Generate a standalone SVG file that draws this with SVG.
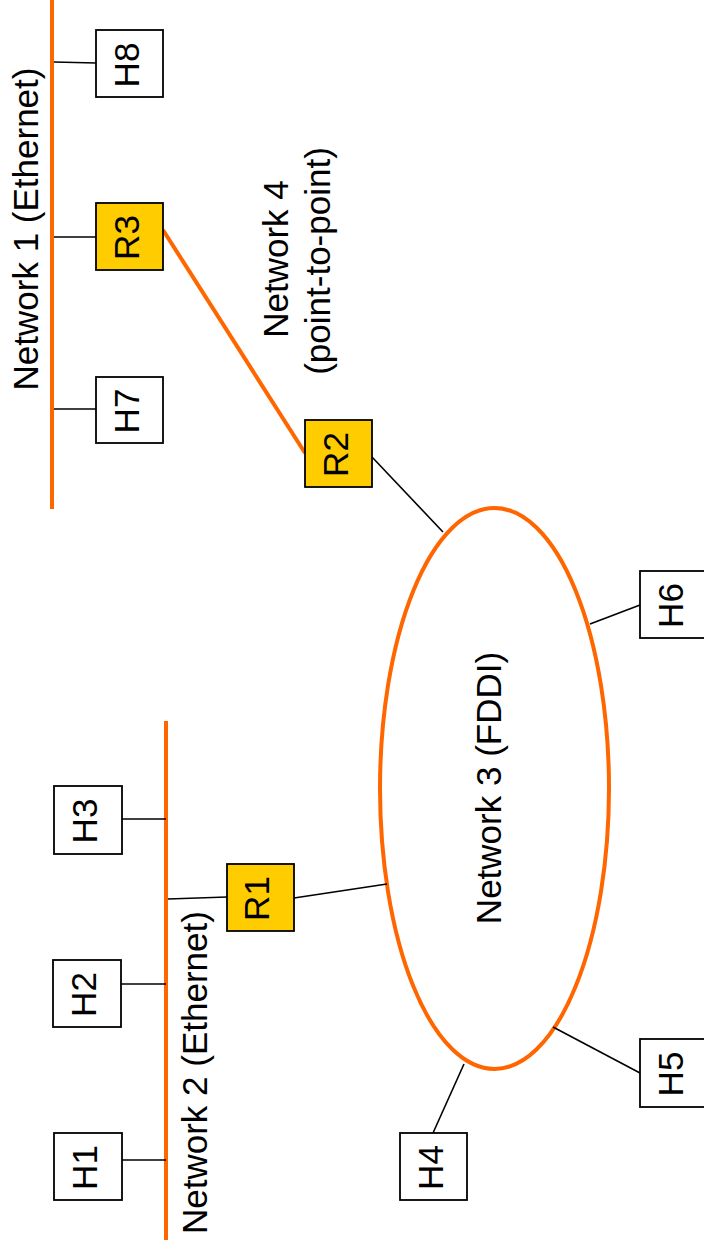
<svg xmlns="http://www.w3.org/2000/svg" width="704" height="1251" viewBox="0 0 704 1251">
<style>
.net{stroke:#FF6600;stroke-width:4;fill:none}
.link{stroke:#000;stroke-width:1.6;fill:none}
.host{fill:#fff;stroke:#000;stroke-width:1.8}
.router{fill:#FFCC00;stroke:#000;stroke-width:1.8}
text{font-family:"Liberation Sans",Arial,sans-serif;font-size:35px;fill:#000}
.c{text-anchor:middle}
</style>
<rect width="704" height="1251" fill="#fff"/>
<g id="networks">
<line id="network1" class="net" x1="52" y1="0" x2="52" y2="509"/>
<line id="network2" class="net" x1="166" y1="721" x2="166" y2="1240"/>
<ellipse id="network3" class="net" cx="494.5" cy="788.5" rx="114.5" ry="280.5"/>
<line id="network4" class="net" x1="163" y1="230" x2="305" y2="453"/>
</g>
<g id="connectors">
<line class="link" x1="54" y1="62" x2="96" y2="63"/>
<line class="link" x1="54" y1="237" x2="96" y2="237"/>
<line class="link" x1="54" y1="409" x2="96" y2="409"/>
<line class="link" x1="372" y1="457" x2="443" y2="532"/>
<line class="link" x1="590" y1="624" x2="640" y2="605"/>
<line class="link" x1="122" y1="819" x2="166" y2="819"/>
<line class="link" x1="168" y1="899" x2="227" y2="897"/>
<line class="link" x1="294" y1="898" x2="387" y2="884"/>
<line class="link" x1="120" y1="984" x2="166" y2="984"/>
<line class="link" x1="120" y1="1160" x2="166" y2="1160"/>
<line class="link" x1="433" y1="1133" x2="464" y2="1064"/>
<line class="link" x1="553" y1="1027" x2="640" y2="1073"/>
</g>
<g id="labels">
<text class="c" transform="translate(38,229) rotate(-90)">Network 1 (Ethernet)</text>
<text class="c" transform="translate(288,259) rotate(-90)">Network 4</text>
<text class="c" transform="translate(330,261) rotate(-90)">(point-to-point)</text>
<text class="c" transform="translate(501,788) rotate(-90)">Network 3 (FDDI)</text>
<text transform="translate(207,1234) rotate(-90)">Network 2 (Ethernet)</text>
</g>
<g id="H8"><rect class="host" x="96" y="30" width="67" height="67"/><text class="c" transform="translate(138.5,65) rotate(-90)">H8</text></g>
<g id="R3"><rect class="router" x="96" y="203" width="67" height="67"/><text class="c" transform="translate(138.5,237.5) rotate(-90)">R3</text></g>
<g id="H7"><rect class="host" x="96" y="377" width="67" height="66"/><text class="c" transform="translate(138.5,411) rotate(-90)">H7</text></g>
<g id="R2"><rect class="router" x="305" y="420" width="67" height="67"/><text class="c" transform="translate(347.5,454.5) rotate(-90)">R2</text></g>
<g id="H6"><rect class="host" x="640" y="571" width="67" height="67"/><text class="c" transform="translate(682.5,605.5) rotate(-90)">H6</text></g>
<g id="H3"><rect class="host" x="54" y="786" width="68" height="68"/><text class="c" transform="translate(97,821) rotate(-90)">H3</text></g>
<g id="R1"><rect class="router" x="227" y="864" width="67" height="67"/><text class="c" transform="translate(269,898.5) rotate(-90)">R1</text></g>
<g id="H2"><rect class="host" x="53" y="960" width="68" height="67"/><text class="c" transform="translate(96,994.5) rotate(-90)">H2</text></g>
<g id="H1"><rect class="host" x="54" y="1133" width="68" height="67"/><text class="c" transform="translate(97,1167.5) rotate(-90)">H1</text></g>
<g id="H4"><rect class="host" x="400" y="1133" width="67" height="67"/><text class="c" transform="translate(442.5,1167.5) rotate(-90)">H4</text></g>
<g id="H5"><rect class="host" x="640" y="1039" width="67" height="68"/><text class="c" transform="translate(682.5,1074) rotate(-90)">H5</text></g>
</svg>
